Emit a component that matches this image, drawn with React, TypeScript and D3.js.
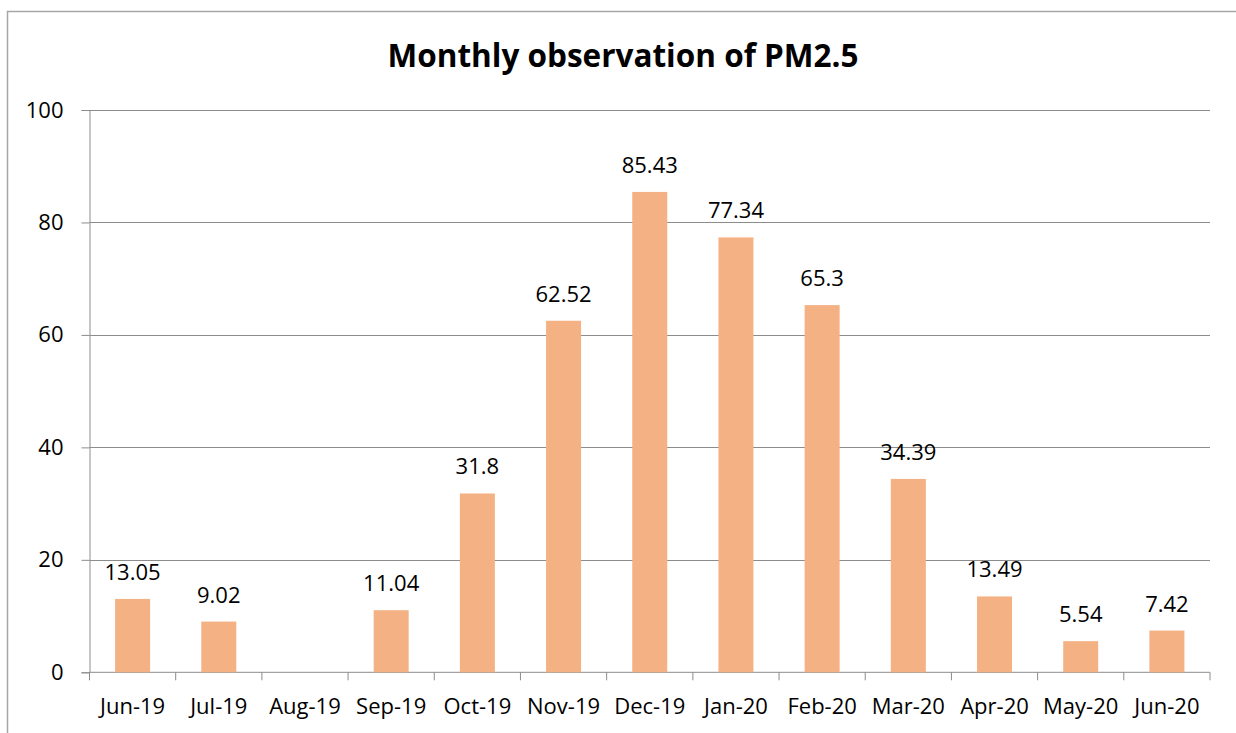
import React, { useEffect, useRef } from 'react';
import * as d3 from 'd3';

const months = ['Jun-19', 'Jul-19', 'Aug-19', 'Sep-19', 'Oct-19', 'Nov-19', 'Dec-19', 'Jan-20', 'Feb-20', 'Mar-20', 'Apr-20', 'May-20', 'Jun-20'];
const pm25: (number | null)[] = [13.05, 9.02, null, 11.04, 31.8, 62.52, 85.43, 77.34, 65.3, 34.39, 13.49, 5.54, 7.42];
const yTicks = [0, 20, 40, 60, 80, 100];

const App = () => {
  const svgRef = useRef<SVGSVGElement>(null);

  useEffect(() => {
    const svg = d3.select(svgRef.current);
    svg.selectAll('*').remove();
    const width = 1236;
    const height = 733;
    const left = 89.5, right = 1210, top = 110, bottom = 672.3;
    const font = "'Open Sans', sans-serif";

    // chart border
    svg.append('rect')
      .attr('x', 7.5).attr('y', 11.5)
      .attr('width', width).attr('height', height)
      .attr('fill', 'white')
      .attr('stroke', '#a6a6a6')
      .attr('stroke-width', 1.5);

    const x = d3.scaleBand().domain(months).range([left, right]).paddingInner(0.594).paddingOuter(0.297);
    const y = d3.scaleLinear().domain([0, 100]).range([bottom, top]);

    // title
    svg.append('text')
      .attr('x', 623).attr('y', 67)
      .attr('text-anchor', 'middle')
      .style('font-family', font)
      .style('font-weight', 'bold')
      .style('font-size', '31.5px')
      .text('Monthly observation of PM2.5');

    // gridlines
    svg.append('g').selectAll('line').data(yTicks.slice(1)).join('line')
      .attr('x1', left).attr('x2', right)
      .attr('y1', (d) => Math.round(y(d)) + 0.5).attr('y2', (d) => Math.round(y(d)) + 0.5)
      .attr('stroke', '#8c8c8c').attr('stroke-width', 1);

    // y axis
    const yAxis = svg.append('g')
      .attr('transform', `translate(${left},0)`)
      .call(d3.axisLeft(y).tickValues(yTicks).tickSize(8).tickPadding(18).tickFormat(d3.format('d')));
    yAxis.select('.domain').attr('stroke', '#8c8c8c');
    yAxis.selectAll('.tick line').attr('stroke', '#8c8c8c');
    yAxis.selectAll('.tick text')
      .style('font-family', font).style('font-size', '22px').attr('fill', 'black');

    // x axis with ticks at band edges
    const xg = svg.append('g');
    xg.append('line')
      .attr('x1', left).attr('x2', right)
      .attr('y1', bottom).attr('y2', bottom)
      .attr('stroke', '#8c8c8c');
    const edges = months.map((m) => x(m)! - (x.step() - x.bandwidth()) / 2).concat([right]);
    xg.selectAll('.xt').data(edges).join('line')
      .attr('class', 'xt')
      .attr('x1', (d) => d).attr('x2', (d) => d)
      .attr('y1', bottom).attr('y2', bottom + 8)
      .attr('stroke', '#8c8c8c');
    xg.selectAll('.xl').data(months).join('text')
      .attr('class', 'xl')
      .attr('x', (d) => x(d)! + x.bandwidth() / 2)
      .attr('y', 714)
      .attr('text-anchor', 'middle')
      .style('font-family', font).style('font-size', '22px')
      .text((d) => d);

    const data = months.map((m, i) => ({ month: m, value: pm25[i] })).filter((d) => d.value !== null) as { month: string; value: number }[];

    // bars
    svg.append('g').selectAll('rect').data(data).join('rect')
      .attr('x', (d) => x(d.month)!)
      .attr('width', x.bandwidth())
      .attr('y', (d) => y(d.value))
      .attr('height', (d) => y(0) - y(d.value))
      .attr('fill', '#f4b183');

    // value labels
    svg.append('g').selectAll('text').data(data).join('text')
      .attr('x', (d) => x(d.month)! + x.bandwidth() / 2)
      .attr('y', (d) => y(d.value) - 19)
      .attr('text-anchor', 'middle')
      .style('font-family', font).style('font-size', '22px')
      .text((d) => String(d.value));
  }, []);

  return <svg ref={svgRef} width={1236} height={733} style={{ position: 'absolute', left: 0, top: 0 }} />;
};

export default App;
